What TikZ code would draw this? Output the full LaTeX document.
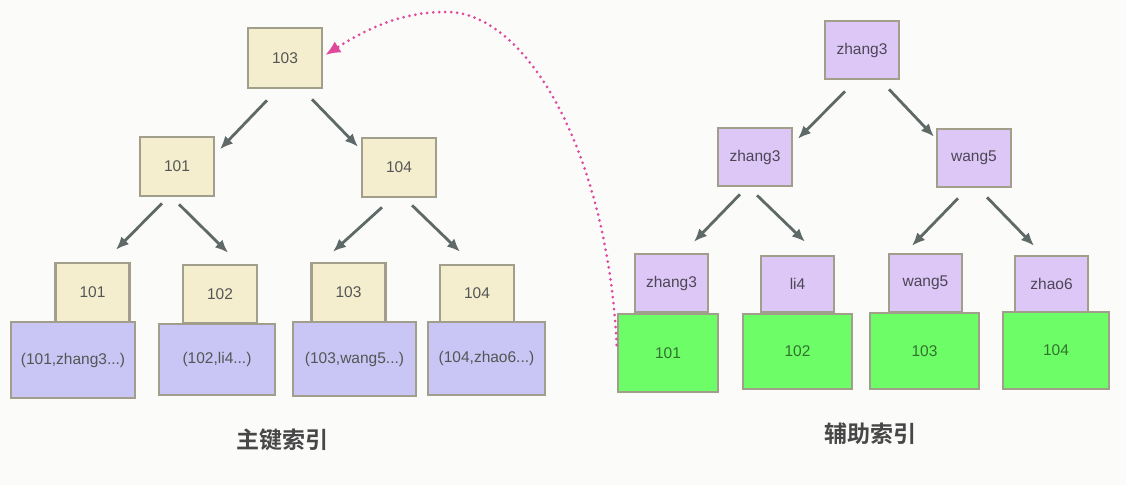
\documentclass[tikz,border=0pt]{standalone}
\usepackage{fontspec}
\setmainfont{Liberation Sans}
\newfontfamily\cjk{Noto Sans CJK SC}[BoldFont={* Bold}]
\usetikzlibrary{arrows.meta,calc}
\definecolor{bgc}{HTML}{FBFBFA}
\definecolor{bord}{HTML}{A29E8C}
\definecolor{beige}{HTML}{F4EECF}
\definecolor{dataC}{HTML}{C9C6F5}
\definecolor{lav}{HTML}{DDC7F6}
\definecolor{grn}{HTML}{6DFD67}
\definecolor{txt}{HTML}{555555}
\definecolor{arrc}{HTML}{5E6968}
\definecolor{pinkc}{HTML}{E0489C}
\tikzset{
  box/.style={draw=bord, line width=2.6pt, inner sep=0pt, text=txt,
    font=\fontsize{15.5}{18}\selectfont},
  keybox/.style={box, fill=beige},
  databox/.style={box, fill=dataC},
  lavbox/.style={box, fill=lav, text=black!65!lav},
  grnbox/.style={box, fill=grn, text=black!55!grn},
  arr/.style={draw=arrc, line width=2.8pt, -{Latex[length=13pt,width=11pt]}},
  ptr/.style={draw=pinkc, line width=3pt, line cap=round, dash pattern=on 0pt off 6pt,
    -{Latex[length=15pt,width=13pt,fill=pinkc]}},
  title/.style={text=black!72, font=\cjk\bfseries\fontsize{23}{26}\selectfont}
}
\begin{document}
\begin{tikzpicture}[x=1pt,y=-1pt]
\fill[bgc] (0,0) rectangle (1126,485);
\useasboundingbox (0,0) rectangle (1126,485);
% ---- left tree (primary key index)
\node[keybox, minimum width=74pt, minimum height=60pt] (L103) at (285,58) {103};
\node[keybox, minimum width=74pt, minimum height=59pt] (L101) at (177,166.5) {101};
\node[keybox, minimum width=74pt, minimum height=59pt] (L104) at (399,167.5) {104};
\node[keybox, minimum width=74pt, minimum height=59pt] (k1) at (92.5,292.5) {101};
\node[keybox, minimum width=74pt, minimum height=58pt] (k2) at (220,294) {102};
\node[keybox, minimum width=74pt, minimum height=59pt] (k3) at (348.5,292.5) {103};
\node[keybox, minimum width=74pt, minimum height=57pt] (k4) at (477,293.5) {104};
\node[databox, minimum width=124pt, minimum height=76pt] (d1) at (73,360) {(101,zhang3...)};
\node[databox, minimum width=116pt, minimum height=71pt] (d2) at (217,359.5) {(102,li4...)};
\node[databox, minimum width=123pt, minimum height=74pt] (d3) at (354.5,359) {(103,wang5...)};
\node[databox, minimum width=117pt, minimum height=73pt] (d4) at (486.5,358.5) {(104,zhao6...)};
\draw[arr] ($(L103.south)+(-18,11)$) -- ($(L101.north)+(43,13.5)$);
\draw[arr] ($(L103.south)+(27,10)$) -- ($(L104.north)+(-41,10)$);
\draw[arr] ($(L101.south)+(-15,6)$) -- ($(k1.north)+(23.5,-12)$);
\draw[arr] ($(L101.south)+(2,7)$) -- ($(k2.north)+(8,-11)$);
\draw[arr] ($(L104.south)+(-17,9)$) -- ($(k3.north)+(-15.5,-10)$);
\draw[arr] ($(L104.south)+(13,7)$) -- ($(k4.north)+(-17,-12)$);
\node[title] (t1) at (282,440) {主键索引};
% ---- right tree (secondary index)
\node[lavbox, minimum width=74pt, minimum height=58pt] (rz) at (862,50) {zhang3};
\node[lavbox, minimum width=74pt, minimum height=58pt] (rz2) at (755,157) {zhang3};
\node[lavbox, minimum width=74pt, minimum height=58pt] (rw) at (974,158) {wang5};
\node[lavbox, minimum width=73pt, minimum height=58pt] (s1) at (671.5,283) {zhang3};
\node[lavbox, minimum width=73pt, minimum height=56pt] (s2) at (797.5,284) {li4};
\node[lavbox, minimum width=73pt, minimum height=58pt] (s3) at (925.5,283) {wang5};
\node[lavbox, minimum width=73pt, minimum height=56pt] (s4) at (1051.5,284) {zhao6};
\node[grnbox, minimum width=100pt, minimum height=78pt] (g1) at (668,353) {101};
\node[grnbox, minimum width=109pt, minimum height=75pt] (g2) at (797.5,351.5) {102};
\node[grnbox, minimum width=109pt, minimum height=76pt] (g3) at (924.5,351) {103};
\node[grnbox, minimum width=106pt, minimum height=77pt] (g4) at (1056,350.5) {104};
\draw[arr] ($(rz.south)+(-17,11)$) -- ($(rz2.north)+(43,12)$);
\draw[arr] ($(rz.south)+(27,9)$) -- ($(rw.north)+(-40,9)$);
\draw[arr] ($(rz2.south)+(-15,7)$) -- ($(s1.north)+(22.5,-11)$);
\draw[arr] ($(rz2.south)+(2,8)$) -- ($(s2.north)+(7.5,-13)$);
\draw[arr] ($(rw.south)+(-16,10)$) -- ($(s3.north)+(-13.5,-7)$);
\draw[arr] ($(rw.south)+(13,9)$) -- ($(s4.north)+(-17.5,-9)$);
\node[title] (t2) at (870,434) {辅助索引};
% ---- pointer back to the primary key
\coordinate (top) at (445,12);
\draw[ptr] ($(g1.west)+(0,-8)$) .. controls (607,150) and (525,10) .. (top)
  .. controls (400,12) and (365,30) .. ($(L103.east)+(2,-3)$);
\end{tikzpicture}
\end{document}
